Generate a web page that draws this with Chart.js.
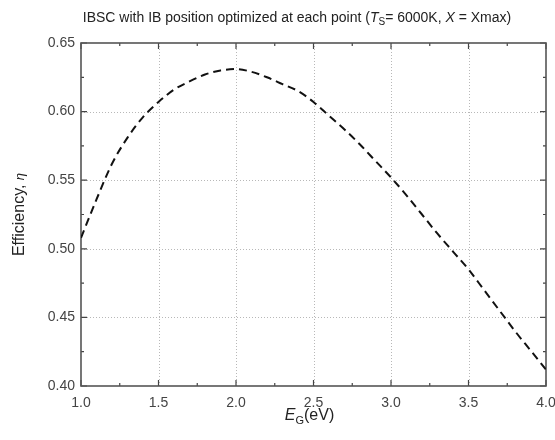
<!DOCTYPE html>
<html>
<head>
<meta charset="utf-8">
<script src="https://cdn.jsdelivr.net/npm/chart.js@4/dist/chart.umd.min.js"></script>
<style>
html,body{margin:0;padding:0;background:#fff;}
#wrap{width:555px;height:440px;position:relative;}
</style>
</head>
<body>
<div id="wrap"><canvas id="c" width="555" height="440"></canvas></div>
<script>
// ---- data ----
const bandgap = [1.0,1.1,1.2,1.3,1.4,1.5,1.6,1.7,1.8,1.9,2.0,2.1,2.2,2.3,2.4,2.5,2.6,2.7,2.8,2.9,3.0,3.1,3.2,3.3,3.4,3.5,3.6,3.7,3.8,3.9,4.0];
const efficiency = [0.508,0.536,0.562,0.581,0.596,0.607,0.616,0.622,0.627,0.630,0.631,0.629,0.625,0.620,0.615,0.607,0.597,0.587,0.576,0.564,0.552,0.539,0.525,0.511,0.498,0.485,0.470,0.455,0.440,0.426,0.412];
const xTicks = [1.0,1.5,2.0,2.5,3.0,3.5,4.0];
const yTicks = [0.40,0.45,0.50,0.55,0.60,0.65];

const FONT = '"Liberation Sans", Arial, sans-serif';

function drawRich(ctx, segs, x, y, align) {
  let total = 0;
  for (const s of segs) {
    ctx.font = (s.italic ? 'italic ' : '') + s.size + 'px ' + FONT;
    s.w = ctx.measureText(s.t).width;
    total += s.w;
  }
  let cx = align === 'center' ? x - total / 2 : x;
  ctx.textAlign = 'left';
  ctx.textBaseline = 'alphabetic';
  for (const s of segs) {
    ctx.font = (s.italic ? 'italic ' : '') + s.size + 'px ' + FONT;
    ctx.fillText(s.t, cx, y + (s.dy || 0));
    cx += s.w;
  }
}

const framePlugin = {
  id: 'frame',
  beforeDatasetsDraw(chart) {
    const ctx = chart.ctx, a = chart.chartArea;
    const xs = chart.scales.x, ys = chart.scales.y;
    ctx.save();
    ctx.strokeStyle = '#b8b8b8';
    ctx.lineWidth = 1;
    ctx.setLineDash([1, 2]);
    xTicks.forEach(v => {
      if (v === xTicks[0] || v === xTicks[xTicks.length - 1]) return;
      const px = Math.round(xs.getPixelForValue(v)) + 0.5;
      ctx.beginPath(); ctx.moveTo(px, a.top); ctx.lineTo(px, a.bottom); ctx.stroke();
    });
    yTicks.forEach(v => {
      if (v === yTicks[0] || v === yTicks[yTicks.length - 1]) return;
      const py = Math.round(ys.getPixelForValue(v)) + 0.5;
      ctx.beginPath(); ctx.moveTo(a.left, py); ctx.lineTo(a.right, py); ctx.stroke();
    });
    ctx.setLineDash([]);
    ctx.strokeStyle = '#444';
    ctx.lineWidth = 1.2;
    for (let i = 0; i < xTicks.length; i++) {
      const v = xTicks[i];
      const px = xs.getPixelForValue(v);
      ctx.beginPath();
      ctx.moveTo(px, a.bottom); ctx.lineTo(px, a.bottom - 6);
      ctx.moveTo(px, a.top); ctx.lineTo(px, a.top + 6);
      ctx.stroke();
      if (i < xTicks.length - 1) {
        const mx = xs.getPixelForValue((v + xTicks[i + 1]) / 2);
        ctx.beginPath();
        ctx.moveTo(mx, a.bottom); ctx.lineTo(mx, a.bottom - 3);
        ctx.moveTo(mx, a.top); ctx.lineTo(mx, a.top + 3);
        ctx.stroke();
      }
    }
    for (let i = 0; i < yTicks.length; i++) {
      const v = yTicks[i];
      const py = ys.getPixelForValue(v);
      ctx.beginPath();
      ctx.moveTo(a.left, py); ctx.lineTo(a.left + 6, py);
      ctx.moveTo(a.right, py); ctx.lineTo(a.right - 6, py);
      ctx.stroke();
      if (i < yTicks.length - 1) {
        const my = ys.getPixelForValue((v + yTicks[i + 1]) / 2);
        ctx.beginPath();
        ctx.moveTo(a.left, my); ctx.lineTo(a.left + 3, my);
        ctx.moveTo(a.right, my); ctx.lineTo(a.right - 3, my);
        ctx.stroke();
      }
    }
    ctx.strokeStyle = '#555';
    ctx.lineWidth = 1.6;
    ctx.strokeRect(a.left, a.top, a.right - a.left, a.bottom - a.top);
    ctx.restore();
  },
  afterDraw(chart) {
    const ctx = chart.ctx, a = chart.chartArea;
    ctx.save();
    ctx.fillStyle = '#222';
    drawRich(ctx, [
      {t: 'IBSC with IB position optimized at each point (', size: 14},
      {t: 'T', size: 14, italic: true},
      {t: 'S', size: 10, dy: 3},
      {t: '= 6000K, ', size: 14},
      {t: 'X', size: 14, italic: true},
      {t: ' = Xmax)', size: 14}
    ], 297, 22, 'center');
    drawRich(ctx, [
      {t: 'E', size: 16, italic: true},
      {t: 'G', size: 11, dy: 4},
      {t: '(eV)', size: 16}
    ], (a.left + a.right) / 2 - 4, 420, 'center');
    ctx.translate(24, (a.top + a.bottom) / 2);
    ctx.rotate(-Math.PI / 2);
    drawRich(ctx, [
      {t: 'Efficiency, ', size: 16},
      {t: 'η', size: 13, italic: true}
    ], 0, 0, 'center');
    ctx.restore();
  }
};

new Chart(document.getElementById('c'), {
  type: 'line',
  data: {
    datasets: [{
      data: bandgap.map((x, i) => ({x: x, y: efficiency[i]})),
      borderColor: '#111',
      borderWidth: 2,
      borderDash: [8, 5],
      pointRadius: 0,
      fill: false,
      cubicInterpolationMode: 'monotone'
    }]
  },
  options: {
    responsive: false,
    animation: false,
    devicePixelRatio: 1,
    layout: {padding: {left: 0, top: 43, right: 9, bottom: 0}},
    plugins: {legend: {display: false}, tooltip: {enabled: false}, title: {display: false}},
    scales: {
      x: {
        type: 'linear', min: 1.0, max: 4.0,
        grid: {display: false, drawTicks: false},
        border: {display: false},
        afterBuildTicks: s => { s.ticks = xTicks.map(v => ({value: v})); },
        afterFit: s => { s.height = 54; s.paddingLeft = 0; s.paddingRight = 0; },
        ticks: {
          padding: 9, color: '#444', maxRotation: 0,
          font: {family: FONT, size: 14},
          callback: v => Number(v).toFixed(1)
        }
      },
      y: {
        type: 'linear', min: 0.40, max: 0.65,
        grid: {display: false, drawTicks: false},
        border: {display: false},
        afterBuildTicks: s => { s.ticks = yTicks.map(v => ({value: v})); },
        afterFit: s => { s.width = 81; s.paddingTop = 0; s.paddingBottom = 0; },
        ticks: {
          padding: 6, color: '#444',
          font: {family: FONT, size: 14},
          callback: v => Number(v).toFixed(2)
        }
      }
    }
  },
  plugins: [framePlugin]
});
</script>
</body>
</html>
